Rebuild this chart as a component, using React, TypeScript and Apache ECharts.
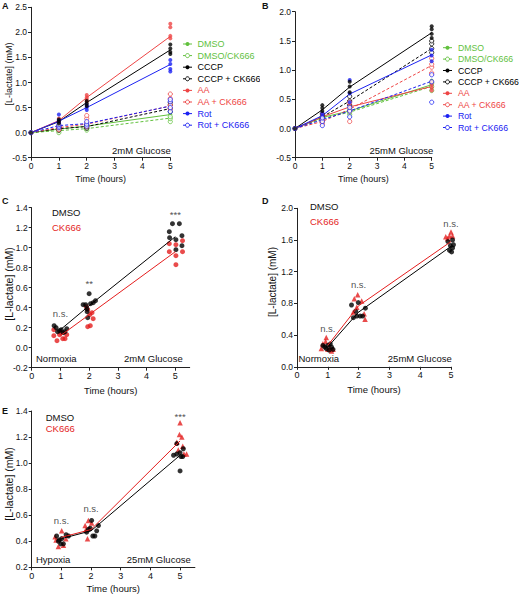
import React, { useEffect, useRef } from "react";
import * as echarts from "echarts";

// ---------- DATA ----------
const TIMES = [0, 1, 2, 5];
const TREAT_TIMES = [1, 2, 5];
const AB_NAMES = ["DMSO", "DMSO/CK666", "CCCP", "CCCP + CK666", "AA", "AA + CK666", "Rot", "Rot + CK666"];

// Panel A (2mM glucose) means at 0,1,2,5 h
const A_MEANS = [
  [0, 0.07, 0.13, 0.36],
  [0, 0.04, 0.08, 0.29],
  [0, 0.22, 0.6, 1.65],
  [0, 0.08, 0.12, 0.48],
  [0, 0.24, 0.7, 1.92],
  [0, 0.1, 0.17, 0.53],
  [0, 0.23, 0.5, 1.36],
  [0, 0.14, 0.18, 0.53],
];
const A_REPS_1 = [
  [0.05, 0.08, 0.1],
  [0.0, 0.04, 0.07],
  [0.18, 0.22, 0.26],
  [0.05, 0.08, 0.11],
  [0.2, 0.24, 0.28],
  [0.06, 0.1, 0.13],
  [0.2, 0.24, 0.36],
  [0.1, 0.13, 0.16],
];
const A_REPS_2 = [
  [0.1, 0.13, 0.16],
  [0.05, 0.08, 0.1],
  [0.53, 0.58, 0.63],
  [0.09, 0.12, 0.15],
  [0.62, 0.66, 0.7, 0.75],
  [0.12, 0.2, 0.28, 0.34],
  [0.45, 0.5, 0.55],
  [0.13, 0.17, 0.22],
];
const A_REPS_5 = [
  [0.3, 0.36, 0.4],
  [0.22, 0.28, 0.32],
  [1.57, 1.61, 1.68, 1.76],
  [0.42, 0.48, 0.55, 0.6],
  [1.88, 1.93, 2.1, 2.17],
  [0.48, 0.55, 0.68, 0.77],
  [1.22, 1.27, 1.37, 1.45],
  [0.42, 0.5, 0.62, 0.66],
];

// Panel B (25mM glucose)
const B_MEANS = [
  [0, 0.19, 0.3, 0.75],
  [0, 0.17, 0.28, 0.72],
  [0, 0.32, 0.71, 1.64],
  [0, 0.2, 0.47, 1.37],
  [0, 0.2, 0.37, 0.72],
  [0, 0.12, 0.33, 1.08],
  [0, 0.22, 0.59, 1.26],
  [0, 0.15, 0.3, 0.81],
];
const B_REPS_1 = [
  [0.15, 0.19, 0.22],
  [0.12, 0.17, 0.2],
  [0.3, 0.35, 0.4],
  [0.15, 0.2, 0.25],
  [0.15, 0.2, 0.25],
  [0.08, 0.12, 0.15],
  [0.18, 0.22, 0.26],
  [0.05, 0.12, 0.18],
];
const B_REPS_2 = [
  [0.26, 0.3, 0.34],
  [0.24, 0.28, 0.32],
  [0.62, 0.72, 0.8],
  [0.4, 0.47, 0.55],
  [0.3, 0.36, 0.42],
  [0.12, 0.3, 0.45],
  [0.45, 0.6, 0.83],
  [0.2, 0.3, 0.36],
];
const B_REPS_5 = [
  [0.7, 0.75, 0.82],
  [0.65, 0.72, 0.78],
  [1.55, 1.62, 1.7, 1.75],
  [1.3, 1.37, 1.45, 1.5],
  [0.65, 0.7, 0.75, 0.8],
  [0.95, 1.05, 1.1, 1.2],
  [1.15, 1.25, 1.35],
  [0.45, 0.8, 0.92],
];

// Panel C (Normoxia, 2mM glucose): [time jittered, value]
const C_DMSO_PTS = [
  [0.78, 0.22], [0.85, 0.2], [0.9, 0.16], [0.97, 0.17], [1.03, 0.18], [1.1, 0.15], [1.16, 0.16], [1.22, 0.19],
  [1.79, 0.43], [1.88, 0.43], [1.92, 0.39], [1.93, 0.36], [1.95, 0.3], [2.0, 0.54], [2.05, 0.44], [2.14, 0.45], [2.22, 0.47],
  [4.79, 1.16], [4.8, 1.1], [4.9, 1.24], [5.02, 1.08], [5.02, 0.98], [5.14, 1.24], [5.23, 1.12], [5.23, 1.02],
];
const C_CK_PTS = [
  [0.77, 0.18], [0.77, 0.12], [0.88, 0.07], [0.97, 0.13], [1.02, 0.15], [1.08, 0.09], [1.16, 0.09], [1.22, 0.13],
  [1.9, 0.41], [1.95, 0.38], [1.95, 0.21], [2.04, 0.22], [2.02, 0.33], [2.1, 0.35], [2.14, 0.29],
  [4.79, 1.04], [4.79, 0.96], [5.02, 1.03], [5.02, 0.92], [5.02, 0.83], [5.25, 1.07], [5.25, 0.96],
];
const C_DMSO_MEAN = [0.18, 0.42, 1.11];
const C_CK_MEAN = [0.12, 0.33, 0.96];
const C_SIG = ["n.s.", "**", "***"];
const C_SIG_Y = [0.34, 0.64, 1.33];

// Panel D (Normoxia, 25mM glucose)
const D_DMSO_PTS = [
  [0.84, 0.27], [0.9, 0.25], [0.95, 0.23], [1.0, 0.27], [1.08, 0.29], [1.12, 0.25], [1.17, 0.22], [1.04, 0.21],
  [1.77, 0.78], [1.83, 0.62], [1.91, 0.7], [1.99, 0.81], [2.05, 0.64], [2.13, 0.64], [2.22, 0.74], [1.94, 0.64],
  [4.9, 1.58], [4.98, 1.53], [4.95, 1.47], [5.05, 1.6], [5.05, 1.5], [5.02, 1.45], [5.08, 1.54],
];
const D_CK_PTS = [
  [0.79, 0.23], [0.84, 0.29], [0.95, 0.37], [1.0, 0.22], [1.08, 0.24], [1.17, 0.22], [0.93, 0.32], [1.12, 0.2],
  [1.86, 0.86], [1.97, 0.91], [2.1, 0.83], [1.94, 0.75], [1.83, 0.69], [2.18, 0.67], [2.21, 0.6],
  [4.83, 1.64], [4.95, 1.65], [5.0, 1.7], [5.05, 1.65], [4.89, 1.62],
];
const D_DMSO_MEAN = [0.25, 0.69, 1.52];
const D_CK_MEAN = [0.27, 0.77, 1.58];
const D_SIG = ["n.s.", "n.s.", "n.s."];
const D_SIG_Y = [0.48, 1.04, 1.81];

// Panel E (Hypoxia, 25mM glucose)
const E_DMSO_PTS = [
  [0.84, 0.44], [0.93, 0.41], [1.01, 0.42], [0.98, 0.38], [1.07, 0.38], [1.16, 0.45], [1.24, 0.44], [0.9, 0.4],
  [1.85, 0.47], [1.97, 0.5], [2.02, 0.56], [2.06, 0.44], [2.13, 0.44], [2.19, 0.48], [2.25, 0.52], [1.91, 0.49],
  [4.78, 1.06], [4.89, 1.15], [4.89, 1.07], [5.0, 1.08], [5.0, 0.94], [5.09, 1.05], [5.11, 1.11], [5.03, 1.05],
];
const E_CK_PTS = [
  [0.79, 0.435], [1.01, 0.48], [0.9, 0.36], [1.07, 0.37], [1.15, 0.42], [0.82, 0.41],
  [1.8, 0.52], [1.88, 0.42], [1.91, 0.56], [1.94, 0.5], [2.02, 0.54], [1.83, 0.49],
  [5.0, 1.31], [4.98, 1.22], [5.06, 1.2], [4.89, 1.16], [5.09, 1.13], [5.13, 1.07], [5.22, 1.07], [4.94, 1.1],
];
const E_DMSO_MEAN = [0.42, 0.48, 1.06];
const E_CK_MEAN = [0.43, 0.49, 1.17];
const E_SIG = ["n.s.", "n.s.", "***"];
const E_SIG_Y = [0.56, 0.65, 1.36];

// ---------- STYLE ----------
const GREEN = "#62c13e";
const RED_AB = "#ee4545";
const BLUE = "#1c22f2";
const BLACK = "#000000";
const AB_COLORS = [GREEN, GREEN, BLACK, BLACK, RED_AB, RED_AB, BLUE, BLUE];
const AB_OPEN = [false, true, false, true, false, true, false, true];
const RED = "#e41e1e";
const FONT = "'Liberation Sans', Arial, Helvetica, sans-serif";
const AXIS_COLOR = "#222";

const fmt1 = (v: number) => {
  const s = (Math.round(v * 10) / 10).toFixed(1);
  return s === "-0.0" ? "0.0" : s;
};

function xAxisDef(gi: number, max: number, size: number, nameSize: number, nameGap: number) {
  const ticks = [0, 1, 2, 3, 4, 5];
  return {
    gridIndex: gi,
    type: "value",
    min: 0,
    max,
    interval: 1,
    axisLine: { onZero: false, lineStyle: { color: AXIS_COLOR, width: 1 } },
    axisTick: { length: 3, lineStyle: { color: AXIS_COLOR, width: 1 }, customValues: ticks },
    axisLabel: {
      fontSize: size,
      color: "#111",
      margin: 4,
      fontFamily: FONT,
      customValues: ticks,
      formatter: (v: number) => (v > 5.001 ? "" : String(Math.round(v))),
    },
    splitLine: { show: false },
    name: "Time (hours)",
    nameLocation: "middle",
    nameGap,
    nameTextStyle: { fontSize: nameSize, color: "#111", fontFamily: FONT },
  };
}

function yAxisDef(gi: number, min: number, max: number, interval: number, size: number) {
  return {
    gridIndex: gi,
    type: "value",
    min,
    max,
    interval,
    axisLine: { show: true, onZero: false, lineStyle: { color: AXIS_COLOR, width: 1 } },
    axisTick: { show: true, length: 3, lineStyle: { color: AXIS_COLOR, width: 1 } },
    axisLabel: { fontSize: size, color: "#111", margin: 4, fontFamily: FONT, formatter: fmt1 },
    splitLine: { show: false },
  };
}

function abSeries(gi: number, means: number[][], r1: number[][], r2: number[][], r5: number[][]) {
  const out: any[] = [];
  AB_NAMES.forEach((name, i) => {
    const color = AB_COLORS[i];
    const open = AB_OPEN[i];
    out.push({
      type: "line",
      name,
      xAxisIndex: gi,
      yAxisIndex: gi,
      data: TIMES.map((t, k) => [t, means[i][k]]),
      symbol: "none",
      silent: true,
      lineStyle: { color, width: 1, type: open ? [3, 2] : "solid" },
      z: 2,
    });
    const pts = [
      [TIMES[0], means[i][0]],
      ...r1[i].map((v) => [1, v]),
      ...r2[i].map((v) => [2, v]),
      ...r5[i].map((v) => [5, v]),
    ];
    out.push({
      type: "scatter",
      name,
      xAxisIndex: gi,
      yAxisIndex: gi,
      data: pts,
      symbol: "circle",
      symbolSize: open ? 4.2 : 4,
      clip: false,
      silent: true,
      itemStyle: open ? { color: "#fff", borderColor: color, borderWidth: 1 } : { color },
      z: i === 2 ? 5 : 3,
    });
  });
  return out;
}

function cdeSeries(
  gi: number,
  dmsoPts: number[][],
  ckPts: number[][],
  dmsoMean: number[],
  ckMean: number[],
  ckSymbol: string,
  sig: string[],
  sigY: number[]
) {
  return [
    {
      type: "line",
      xAxisIndex: gi,
      yAxisIndex: gi,
      data: TREAT_TIMES.map((t, k) => [t, ckMean[k]]),
      symbol: "none",
      silent: true,
      lineStyle: { color: RED, width: 1 },
      z: 4,
    },
    {
      type: "line",
      xAxisIndex: gi,
      yAxisIndex: gi,
      data: TREAT_TIMES.map((t, k) => [t, dmsoMean[k]]),
      symbol: "none",
      silent: true,
      lineStyle: { color: BLACK, width: 1 },
      z: 4,
    },
    {
      type: "scatter",
      xAxisIndex: gi,
      yAxisIndex: gi,
      data: ckPts,
      symbol: ckSymbol,
      symbolSize: ckSymbol === "triangle" ? 5.5 : 5,
      clip: false,
      silent: true,
      itemStyle: { color: RED },
      z: 3,
    },
    {
      type: "scatter",
      xAxisIndex: gi,
      yAxisIndex: gi,
      data: dmsoPts,
      symbol: "circle",
      symbolSize: 5,
      clip: false,
      silent: true,
      itemStyle: { color: BLACK },
      z: 3,
    },
    {
      type: "scatter",
      xAxisIndex: gi,
      yAxisIndex: gi,
      data: TREAT_TIMES.map((t, k) => ({ value: [t, sigY[k]], name: sig[k] })),
      symbolSize: 1,
      clip: false,
      silent: true,
      itemStyle: { color: "rgba(0,0,0,0)" },
      label: {
        show: true,
        position: "inside",
        formatter: (p: any) => p.name,
        fontSize: 9.5,
        color: "#222",
        fontFamily: FONT,
      },
      z: 6,
    },
  ];
}

function txt(x: number, y: number, text: string, opts: any = {}) {
  return {
    type: "text",
    x,
    y,
    rotation: opts.rotation || 0,
    z: opts.z || 10,
    style: {
      text,
      fill: opts.fill || "#111",
      fontSize: opts.fontSize || 9.5,
      fontFamily: FONT,
      fontWeight: opts.fontWeight || "normal",
      align: opts.align || "left",
      verticalAlign: opts.verticalAlign || "middle",
    },
  };
}

function legend(x0: number, textX: number, y0: number, gap: number, fontSize: number) {
  const els: any[] = [];
  AB_NAMES.forEach((name, i) => {
    const y = y0 + gap * i;
    const color = AB_COLORS[i];
    const open = AB_OPEN[i];
    els.push({
      type: "line",
      z: 10,
      shape: { x1: x0, y1: y, x2: x0 + 9, y2: y },
      style: { stroke: color, lineWidth: 1, lineDash: open ? [2, 1.5] : null },
    });
    els.push({
      type: "circle",
      z: 11,
      shape: { cx: x0 + 4.5, cy: y, r: 2 },
      style: open ? { fill: "#fff", stroke: color, lineWidth: 1 } : { fill: color },
    });
    els.push(txt(textX, y, name, { fill: color, fontSize }));
  });
  return els;
}

export default function App() {
  const ref = useRef<HTMLDivElement>(null);
  useEffect(() => {
    if (!ref.current) return;
    const chart = echarts.init(ref.current, null, { renderer: "svg" });
    const option: any = {
      animation: false,
      backgroundColor: "#fff",
      textStyle: { fontFamily: FONT },
      grid: [
        { left: 31, top: 7.3, width: 139.3, height: 150.4, outerBoundsMode: "none" },
        { left: 295, top: 11.7, width: 136.7, height: 146, outerBoundsMode: "none" },
        { left: 31.7, top: 207.7, width: 158, height: 160, outerBoundsMode: "none" },
        { left: 297, top: 208.3, width: 154, height: 158.5, outerBoundsMode: "none" },
        { left: 31.7, top: 411, width: 163.2, height: 156.3, outerBoundsMode: "none" },
      ],
      xAxis: [
        xAxisDef(0, 5, 8.5, 9, 17),
        xAxisDef(1, 5, 8.5, 9, 17),
        xAxisDef(2, 5.5, 9, 9.5, 18),
        xAxisDef(3, 5, 9, 9.5, 18),
        xAxisDef(4, 5.5, 9, 9.5, 16),
      ],
      yAxis: [
        yAxisDef(0, -0.5, 2.5, 0.5, 8.5),
        yAxisDef(1, -0.5, 2.0, 0.5, 8.5),
        yAxisDef(2, -0.2, 1.4, 0.2, 8.5),
        yAxisDef(3, 0, 2.0, 0.4, 8.5),
        yAxisDef(4, 0.2, 1.4, 0.2, 8.5),
      ],
      series: [
        ...abSeries(0, A_MEANS, A_REPS_1, A_REPS_2, A_REPS_5),
        ...abSeries(1, B_MEANS, B_REPS_1, B_REPS_2, B_REPS_5),
        ...cdeSeries(2, C_DMSO_PTS, C_CK_PTS, C_DMSO_MEAN, C_CK_MEAN, "circle", C_SIG, C_SIG_Y),
        ...cdeSeries(3, D_DMSO_PTS, D_CK_PTS, D_DMSO_MEAN, D_CK_MEAN, "triangle", D_SIG, D_SIG_Y),
        ...cdeSeries(4, E_DMSO_PTS, E_CK_PTS, E_DMSO_MEAN, E_CK_MEAN, "triangle", E_SIG, E_SIG_Y),
      ],
      graphic: [
        // panel letters
        txt(2, 6, "A", { fontWeight: "bold", fontSize: 9 }),
        txt(262, 6, "B", { fontWeight: "bold", fontSize: 9 }),
        txt(2, 201, "C", { fontWeight: "bold", fontSize: 9 }),
        txt(262, 201, "D", { fontWeight: "bold", fontSize: 9 }),
        txt(2, 411, "E", { fontWeight: "bold", fontSize: 9 }),
        // y titles
        txt(8.5, 74, "[L-lactate] (mM)", { rotation: Math.PI / 2, align: "center", fontSize: 9 }),
        txt(9, 284, "[L-lactate] (mM)", { rotation: Math.PI / 2, align: "center", fontSize: 10.5 }),
        txt(272, 282, "[L-lactate] (mM)", { rotation: Math.PI / 2, align: "center", fontSize: 10 }),
        txt(9, 484, "[L-lactate] (mM)", { rotation: Math.PI / 2, align: "center", fontSize: 10.5 }),
        // legends A, B
        ...legend(183, 197.5, 44, 11.6, 9),
        ...legend(443, 458, 47.7, 11.4, 8.7),
        // mask where panel B overlaps A's legend
        { type: "rect", z: 12, shape: { x: 260, y: 70, width: 10, height: 16 }, style: { fill: "#fff" } },
        // glucose labels
        txt(170.7, 150, "2mM Glucose", { align: "right" }),
        txt(433.3, 150, "25mM Glucose", { align: "right" }),
        // C annotations
        txt(52, 212, "DMSO"),
        txt(52, 227.5, "CK666", { fill: RED }),
        txt(36, 358, "Normoxia"),
        txt(182.7, 358, "2mM Glucose", { align: "right" }),
        // D annotations
        txt(310, 206, "DMSO"),
        txt(310, 221.7, "CK666", { fill: RED }),
        txt(298.5, 358.3, "Normoxia"),
        txt(451.7, 358.3, "25mM Glucose", { align: "right" }),
        // E annotations
        txt(45.7, 417.7, "DMSO"),
        txt(45.7, 428.5, "CK666", { fill: RED }),
        txt(36, 559, "Hypoxia"),
        txt(190.7, 559, "25mM Glucose", { align: "right" }),
      ],
    };
    chart.setOption(option);
    return () => chart.dispose();
  }, []);
  return (
    <div
      ref={ref}
      style={{ position: "fixed", left: 0, top: 0, width: 520, height: 595, background: "#fff" }}
    />
  );
}
